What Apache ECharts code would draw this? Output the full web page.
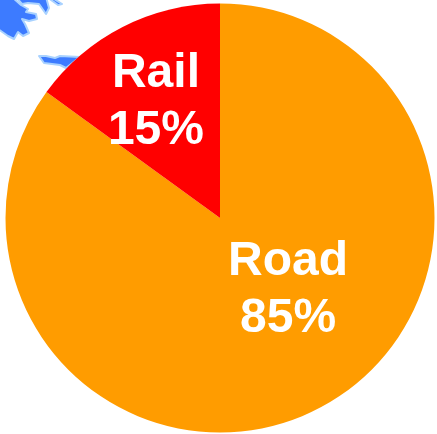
<!DOCTYPE html>
<html>
<head>
<meta charset="utf-8">
<style>html,body{margin:0;padding:0;background:#fff}#c{width:437px;height:434px}</style>
<script src="https://cdn.jsdelivr.net/npm/echarts@6/dist/echarts.min.js"></script>
</head>
<body>
<div id="c"></div>
<script>
// Freight share by transport mode
const modes = ['Road', 'Rail'];
const shares = [85, 15];
const colours = ['#ff9c00', '#ff0000'];
const labelShift = [[18, -26], [-14, -18]];

// Fragments of the map that sits behind the pie
const coastMain = [[-2,-3],[12,-3],[21,5],[28,9],[26,12],[36,14],[37,19],[29,21],[22,19],[25,24],[29,33],[23,36],[18,32],[14,39],[8,36],[-2,29]];
const coastUpper = [[16,-3],[22,4],[28,3],[39,4],[46,14],[49,8],[46,-3]];
const coastTail = [[51,-3],[62,4],[58,5],[47,-3]];
const coastLow = [[39,56],[46,56],[55,58],[60,56],[80,57],[66,68],[60,65],[44,63]];

const blob = pts => ({
  type: 'polygon', z: 0,
  shape: { points: pts },
  style: { fill: '#3d7bff', stroke: '#a9d2ff', lineWidth: 2, lineJoin: 'round' }
});

const chart = echarts.init(document.getElementById('c'), null, { renderer: 'canvas' });
chart.setOption({
  animation: false,
  backgroundColor: '#ffffff',
  graphic: [blob(coastMain), blob(coastUpper), blob(coastTail), blob(coastLow)],
  series: [{
    type: 'pie',
    z: 2,
    center: [220, 218],
    radius: [0, 214.5],
    startAngle: 90,
    clockwise: true,
    avoidLabelOverlap: false,
    data: modes.map((name, i) => ({
      name, value: shares[i],
      itemStyle: { color: colours[i] }
    })),
    label: {
      show: true,
      position: 'inside',
      formatter: '{b}\n{d}%',
      color: '#ffffff',
      fontFamily: '"Liberation Sans", Arial, sans-serif',
      fontWeight: 'bold',
      fontSize: 48,
      lineHeight: 57,
      align: 'center'
    },
    labelLine: { show: false },
    labelLayout: params => {
      const s = labelShift[params.dataIndex];
      return { dx: s[0], dy: s[1] };
    },
    emphasis: { disabled: true }
  }]
});
</script>
</body>
</html>
